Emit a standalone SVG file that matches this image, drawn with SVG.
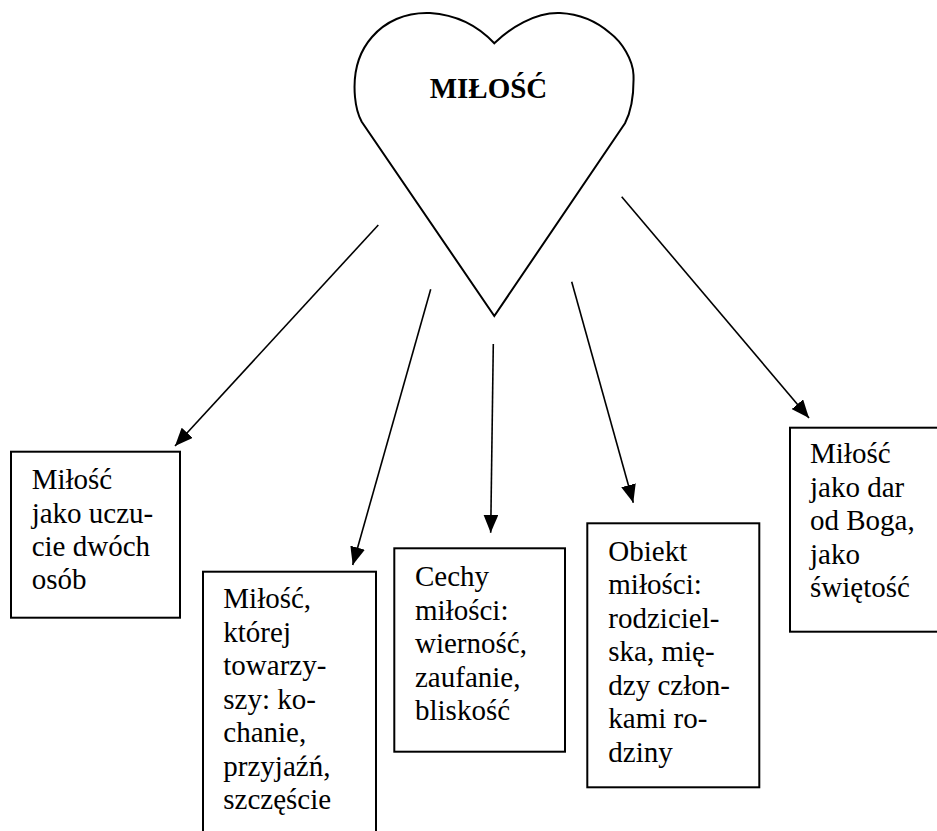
<svg xmlns="http://www.w3.org/2000/svg" width="937" height="831" viewBox="0 0 937 831">
<style>
.box{fill:#fff;stroke:#000;stroke-width:2}
.conn{stroke:#000;stroke-width:1.6;fill:none;marker-end:url(#ah)}
</style>
<defs>
<marker id="ah" markerUnits="userSpaceOnUse" viewBox="0 0 18 15" markerWidth="18" markerHeight="15" refX="18" refY="7.5" orient="auto">
<path d="M0,0 L18,7.5 L0,15 Z" fill="#000"/>
</marker>
</defs>
<rect width="937" height="831" fill="#fff"/>
<g id="heart">
<path d="M494.3,43.3 C480,28 460,15 430,13 C405,12 385,22 372,37 C358,53 353,75 355,97 C356,108 358,115 361.7,121.7 L494.3,316 L625,123.3 C632,110 634,95 633.5,75 C633,60 622,42 610,33 C595,20 580,14 560,13 C535,12 510,28 494.3,43.3 Z" fill="#fff" stroke="#000" stroke-width="2"/>
<text x="488.5" y="98.3" text-anchor="middle" font-family="Liberation Serif, Times New Roman, serif" font-size="29" font-weight="bold">MIŁOŚĆ</text>
</g>
<g id="connectors">
<line class="conn" x1="378.3" y1="225" x2="175" y2="446"/>
<line class="conn" x1="430.7" y1="289.3" x2="352.7" y2="565"/>
<line class="conn" x1="493.3" y1="344" x2="490.7" y2="532.7"/>
<line class="conn" x1="571.7" y1="281.7" x2="633.3" y2="502.7"/>
<line class="conn" x1="621.7" y1="196.7" x2="809" y2="418"/>
</g>
<g font-family="Liberation Serif, Times New Roman, serif" font-size="29" font-weight="normal" fill="#000">
<g id="node1">
<rect class="box" x="11" y="451.7" width="169" height="166"/>
<text x="31.7" y="489.3">Miłość</text>
<text x="31.7" y="522.5">jako uczu-</text>
<text x="31.7" y="555.8">cie dwóch</text>
<text x="31.7" y="589">osób</text>
</g>
<g id="node2">
<rect class="box" x="203" y="571.7" width="173" height="270"/>
<text x="223.3" y="608.3">Miłość,</text>
<text x="223.3" y="641.8">której</text>
<text x="223.3" y="675.3">towarzy-</text>
<text x="223.3" y="708.8">szy: ko-</text>
<text x="223.3" y="742.3">chanie,</text>
<text x="223.3" y="775.8">przyjaźń,</text>
<text x="223.3" y="809.3">szczęście</text>
</g>
<g id="node3">
<rect class="box" x="394.3" y="548.3" width="170.7" height="203.4"/>
<text x="415" y="586">Cechy</text>
<text x="415" y="619.5">miłości:</text>
<text x="415" y="653">wierność,</text>
<text x="415" y="686.5">zaufanie,</text>
<text x="415" y="720">bliskość</text>
</g>
<g id="node4">
<rect class="box" x="587.3" y="523.3" width="172" height="264"/>
<text x="608.3" y="560.5">Obiekt</text>
<text x="608.3" y="594">miłości:</text>
<text x="608.3" y="627.5">rodziciel-</text>
<text x="608.3" y="661">ska, mię-</text>
<text x="608.3" y="694.5">dzy człon-</text>
<text x="608.3" y="728">kami ro-</text>
<text x="608.3" y="761.5">dziny</text>
</g>
<g id="node5">
<rect class="box" x="790" y="427.7" width="160" height="204"/>
<text x="810" y="463.3">Miłość</text>
<text x="810" y="496.8">jako dar</text>
<text x="810" y="530.3">od Boga,</text>
<text x="810" y="563.8">jako</text>
<text x="810" y="597.3">świętość</text>
</g>
</g>
</svg>
